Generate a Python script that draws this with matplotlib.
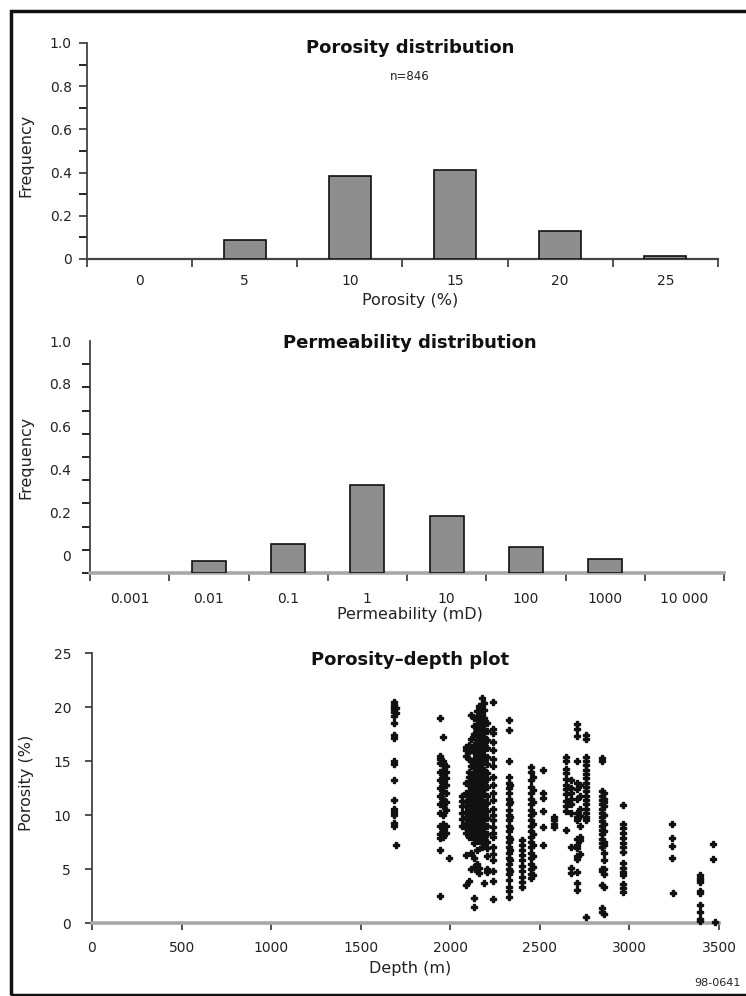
import matplotlib
matplotlib.use("Agg")
import matplotlib.pyplot as plt
from matplotlib.patches import Rectangle
from matplotlib.ticker import FixedLocator, FixedFormatter, NullFormatter

# porosity histogram
poro_bins = ["0", "5", "10", "15", "20", "25"]
poro_freq = [0.0, 0.09, 0.384, 0.412, 0.13, 0.014]
poro_n = 846

# permeability histogram
perm_bins = ["0.001", "0.01", "0.1", "1", "10", "100", "1000", "10 000"]
perm_freq = [0.0, 0.05, 0.125, 0.38, 0.245, 0.11, 0.06, 0.0]
# the original figure has its y labels drifting off the tick marks
perm_label_at = [0.075, 0.26, 0.445, 0.63, 0.815, 1.0]
freq_labels = ["0", "0.2", "0.4", "0.6", "0.8", "1.0"]

# porosity vs depth, read column by column (depth m, porosity %)
depth_cols = [
    (1688, [20.5, 20.2, 20.0, 19.8, 19.5, 19.2, 18.5, 17.4, 17.1, 15.0, 14.7, 13.2, 11.4, 10.6, 10.3, 10.0, 9.3, 9.0]),
    (1695, [19.9, 19.4, 7.2]),
    (1942, [19.0, 15.5, 15.2, 14.8, 14.0, 13.2, 12.5, 11.8, 11.0, 10.2, 9.0, 8.2, 7.9, 6.8, 2.5]),
    (1960, [17.2, 15.0, 14.6, 14.2, 13.8, 13.5, 13.0, 12.6, 12.2, 11.5, 10.8, 10.0, 9.2, 8.5, 8.0]),
    (1978, [14.5, 14.0, 13.4, 12.8, 12.0, 11.2, 10.5, 9.0, 8.3]),
    (1992, [6.0]),
    (2068, [11.8, 11.3, 10.8, 10.2, 9.6, 9.0]),
    (2085, [16.3, 16.0, 15.5, 13.0, 12.0, 11.2, 10.8, 10.3, 9.8, 9.3, 8.8, 8.3, 6.3, 3.5]),
    (2102, [16.5, 15.9, 15.2, 14.0, 13.5, 12.8, 12.2, 11.6, 11.0, 10.5, 10.0, 9.5, 9.0, 8.5, 8.0, 3.9]),
    (2118, [19.3, 17.0, 16.0, 15.0, 14.5, 13.8, 13.2, 12.6, 12.0, 11.5, 11.0, 10.5, 10.0, 9.5, 9.0, 8.5, 8.0, 6.5, 5.0]),
    (2135, [19.0, 18.2, 17.5, 16.5, 15.8, 15.2, 14.6, 14.0, 13.4, 12.8, 12.2, 11.6, 11.0, 10.4, 9.8, 9.2, 8.6, 8.0, 7.4, 6.0, 5.2, 2.3, 1.5]),
    (2150, [19.6, 19.1, 18.4, 17.9, 17.3, 16.9, 16.4, 15.9, 15.4, 14.9, 14.4, 13.9, 13.4, 12.9, 12.4, 11.9, 11.4, 10.9, 10.4, 9.9, 9.4, 8.9, 8.4, 7.9, 6.8, 5.5, 4.8]),
    (2162, [20.1, 19.5, 18.9, 18.2, 17.7, 17.1, 16.6, 16.2, 15.6, 15.1, 14.7, 14.1, 13.6, 13.2, 12.7, 12.1, 11.7, 11.2, 10.7, 10.1, 9.7, 9.1, 8.6, 8.1, 7.6, 5.1, 4.6]),
    (2175, [20.8, 20.3, 19.8, 19.3, 18.7, 18.1, 17.6, 17.0, 16.5, 16.0, 15.3, 14.8, 14.3, 13.8, 13.3, 12.8, 12.3, 11.8, 11.3, 10.8, 10.3, 9.8, 9.3, 8.8, 8.2, 7.7, 7.0]),
    (2188, [20.4, 19.7, 19.0, 18.4, 17.8, 17.2, 16.7, 16.1, 15.5, 14.9, 14.2, 13.6, 13.1, 12.4, 11.9, 11.2, 10.7, 10.1, 9.6, 9.0, 8.4, 7.8, 7.2, 3.7]),
    (2205, [18.5, 17.8, 16.9, 16.2, 15.4, 14.7, 13.9, 13.3, 12.6, 11.8, 11.1, 10.4, 9.7, 9.0, 8.2, 7.5, 6.9, 6.2, 5.0, 4.7]),
    (2238, [20.5, 18.0, 17.6, 16.8, 16.0, 15.2, 14.5, 13.5, 12.8, 12.0, 11.4, 10.6, 10.0, 9.5, 8.9, 8.3, 8.0, 7.0, 6.4, 5.8, 4.8, 3.9, 2.2]),
    (2325, [18.8, 17.9, 15.0, 13.5, 13.0, 12.5, 12.0, 11.5, 11.0, 10.5, 10.0, 9.5, 9.0, 8.5, 8.0, 7.5, 7.0, 6.5, 6.0, 5.5, 5.0, 4.5, 4.0, 3.3, 3.0, 2.4]),
    (2335, [12.8, 11.2, 9.8, 8.8, 7.8, 6.8, 5.8, 4.8]),
    (2402, [7.7, 7.2, 6.8, 6.3, 5.8, 5.3, 4.8, 4.3, 3.8, 3.3]),
    (2448, [14.4, 14.0, 13.2, 12.6, 12.0, 11.5, 11.0, 10.5, 10.0, 9.5, 9.0, 8.5, 8.0, 7.5, 7.0, 6.5, 6.0, 5.5, 5.0, 4.5, 4.2]),
    (2460, [13.5, 12.3, 11.2, 10.2, 9.2, 8.2, 7.2, 6.2, 5.2, 4.4]),
    (2518, [14.2, 12.0, 11.6, 10.4, 8.9, 7.2]),
    (2580, [9.8, 9.5, 9.2, 8.9]),
    (2645, [15.4, 15.0, 14.3, 13.9, 13.3, 12.8, 12.4, 11.9, 11.3, 10.8, 10.4, 8.6]),
    (2672, [13.2, 12.5, 12.0, 11.5, 11.0, 10.2, 7.0, 5.1, 4.6]),
    (2710, [18.4, 18.0, 17.3, 15.0, 13.0, 12.4, 11.5, 10.2, 9.8, 9.5, 7.8, 7.2, 6.9, 6.2, 5.9, 4.7, 3.7, 3.1]),
    (2725, [12.8, 11.8, 10.6, 9.9, 9.0, 8.0, 7.7, 6.4]),
    (2760, [17.4, 17.0, 15.4, 15.0, 14.6, 14.2, 13.8, 13.4, 13.0, 12.6, 12.2, 11.8, 11.4, 11.0, 10.6, 10.2, 9.8, 9.5, 0.6]),
    (2845, [15.3, 15.0, 12.2, 11.8, 11.4, 11.0, 10.6, 10.2, 9.8, 9.4, 9.0, 8.6, 8.2, 7.8, 7.4, 7.0, 5.0, 4.8, 3.5, 1.4, 1.0]),
    (2860, [12.0, 11.5, 11.2, 10.8, 10.0, 9.2, 8.5, 7.5, 7.2, 6.5, 5.8, 5.0, 4.5, 3.3, 0.8]),
    (2965, [10.9, 9.2, 8.8, 8.3, 7.9, 7.4, 7.0, 6.6, 5.6, 5.1, 4.7, 4.4, 3.6, 3.2, 2.9]),
    (3235, [9.2, 7.9, 7.1, 6.0]),
    (3245, [2.8]),
    (3395, [4.4, 4.2, 4.0, 3.8, 3.0, 2.8, 1.7, 1.0, 0.4, 0.2]),
    (3468, [7.3, 5.9]),
    (3480, [0.1]),
]
depth_ticks = [0, 500, 1000, 1500, 2000, 2500, 3000, 3500]
poro_ticks = [0, 5, 10, 15, 20, 25]

W, H = 746, 996
TXT = "#222222"
plt.rcParams["font.family"] = ["DejaVu Sans"]


def box(left, top, right, bottom):
    return [left / W, 1 - bottom / H, (right - left) / W, (bottom - top) / H]


def base_axes(ax):
    for s in ("top", "right"):
        ax.spines[s].set_visible(False)
    ax.spines["left"].set_color("#333333")
    ax.spines["left"].set_linewidth(1.2)
    ax.tick_params(colors="#333333", labelcolor=TXT, labelsize=10)


def histogram(ax, labels, values, width, label_pad):
    n = len(labels)
    pos = list(range(n))
    # empty bins are left blank, as in the original
    shown = [(p, v) for p, v in zip(pos, values) if v > 0]
    ax.bar([p for p, _ in shown], [v for _, v in shown], width=width,
           color="#8e8e8e", edgecolor="#111111", linewidth=1.2, zorder=3)
    ax.set_xlim(-0.5, n - 0.5)
    ax.set_ylim(0, 1.0)
    # tick marks on the bin edges, labels in the middle of each bin
    ax.xaxis.set_major_locator(FixedLocator([i - 0.5 for i in range(n + 1)]))
    ax.xaxis.set_major_formatter(NullFormatter())
    ax.xaxis.set_minor_locator(FixedLocator(pos))
    ax.xaxis.set_minor_formatter(FixedFormatter(labels))
    ax.tick_params(axis="x", which="major", direction="out", length=6, width=1.2)
    ax.tick_params(axis="x", which="minor", length=0, pad=label_pad, labelsize=10, labelcolor=TXT)


fig = plt.figure(figsize=(W / 100, H / 100), dpi=100)

# --- porosity distribution ---
ax1 = fig.add_axes(box(87, 43, 718, 259))
base_axes(ax1)
histogram(ax1, poro_bins, poro_freq, 0.4, 11)
ax1.spines["bottom"].set_color("#444444")
ax1.spines["bottom"].set_linewidth(1.6)
ax1.yaxis.set_major_locator(FixedLocator([0, 0.2, 0.4, 0.6, 0.8, 1.0]))
ax1.yaxis.set_major_formatter(FixedFormatter(freq_labels))
ax1.yaxis.set_minor_locator(FixedLocator([0.1, 0.3, 0.5, 0.7, 0.9]))
ax1.tick_params(axis="y", which="both", direction="out", length=6, width=1.2, pad=5)
ax1.text(0.512, 0.977, "Porosity distribution", transform=ax1.transAxes,
         ha="center", va="center", fontsize=13, fontweight="bold", color="#111111")
ax1.text(0.512, 0.843, f"n={poro_n}", transform=ax1.transAxes,
         ha="center", va="center", fontsize=8.5, color=TXT)
ax1.text(0.512, -0.19, "Porosity (%)", transform=ax1.transAxes,
         ha="center", va="center", fontsize=11.5, color=TXT)
ax1.text(-0.097, 0.48, "Frequency", transform=ax1.transAxes, rotation=90,
         ha="center", va="center", fontsize=11.5, color=TXT)

# --- permeability distribution ---
ax2 = fig.add_axes(box(90, 341, 724, 573))
base_axes(ax2)
histogram(ax2, perm_bins, perm_freq, 0.43, 13.5)
ax2.spines["bottom"].set_color("#a8a8a8")
ax2.spines["bottom"].set_linewidth(2.6)
ax2.yaxis.set_major_locator(FixedLocator(perm_label_at))
ax2.yaxis.set_major_formatter(FixedFormatter(freq_labels))
ax2.yaxis.set_minor_locator(FixedLocator([i / 10 for i in range(11)]))
ax2.tick_params(axis="y", which="major", length=0, pad=13.5)
ax2.tick_params(axis="y", which="minor", direction="out", length=6, width=1.2)
ax2.text(0.505, 0.991, "Permeability distribution", transform=ax2.transAxes,
         ha="center", va="center", fontsize=13, fontweight="bold", color="#111111")
ax2.text(0.505, -0.181, "Permeability (mD)", transform=ax2.transAxes,
         ha="center", va="center", fontsize=11.5, color=TXT)
ax2.text(-0.101, 0.5, "Frequency", transform=ax2.transAxes, rotation=90,
         ha="center", va="center", fontsize=11.5, color=TXT)

# --- porosity-depth plot ---
ax3 = fig.add_axes(box(92, 653, 719, 923))
base_axes(ax3)
xs, ys = [], []
for depth, vals in depth_cols:
    xs += [depth] * len(vals)
    ys += vals
ax3.plot(xs, ys, "P", ms=5.0, color="#111111", mec="#111111", mew=1.0,
         clip_on=False, zorder=3)
ax3.set_xlim(0, 3500)
ax3.set_ylim(0, 25)
ax3.set_xticks(depth_ticks)
ax3.set_xticklabels([str(t) for t in depth_ticks])
ax3.set_yticks(poro_ticks)
ax3.set_yticklabels([str(t) for t in poro_ticks])
ax3.spines["bottom"].set_color("#a8a8a8")
ax3.spines["bottom"].set_linewidth(2.6)
ax3.tick_params(axis="x", direction="out", length=5, width=1.2, pad=8)
ax3.tick_params(axis="y", direction="out", length=5, width=1.2, pad=10)
ax3.text(0.507, 0.974, "Porosity\u2013depth plot", transform=ax3.transAxes,
         ha="center", va="center", fontsize=13, fontweight="bold", color="#111111")
ax3.text(0.507, -0.167, "Depth (m)", transform=ax3.transAxes,
         ha="center", va="center", fontsize=11.5, color=TXT)
ax3.text(-0.105, 0.52, "Porosity (%)", transform=ax3.transAxes, rotation=90,
         ha="center", va="center", fontsize=11.5, color=TXT)

fig.text(717 / W, 1 - 983 / H, "98-0641", ha="center", va="center", fontsize=8, color=TXT)

# frame round the whole figure
fig.patches.append(Rectangle((11 / W, 1 - 995 / H), 760 / W, 984 / H,
                             transform=fig.transFigure, fill=False,
                             edgecolor="#111111", linewidth=2.5))

fig.savefig("out.png", dpi=100)
